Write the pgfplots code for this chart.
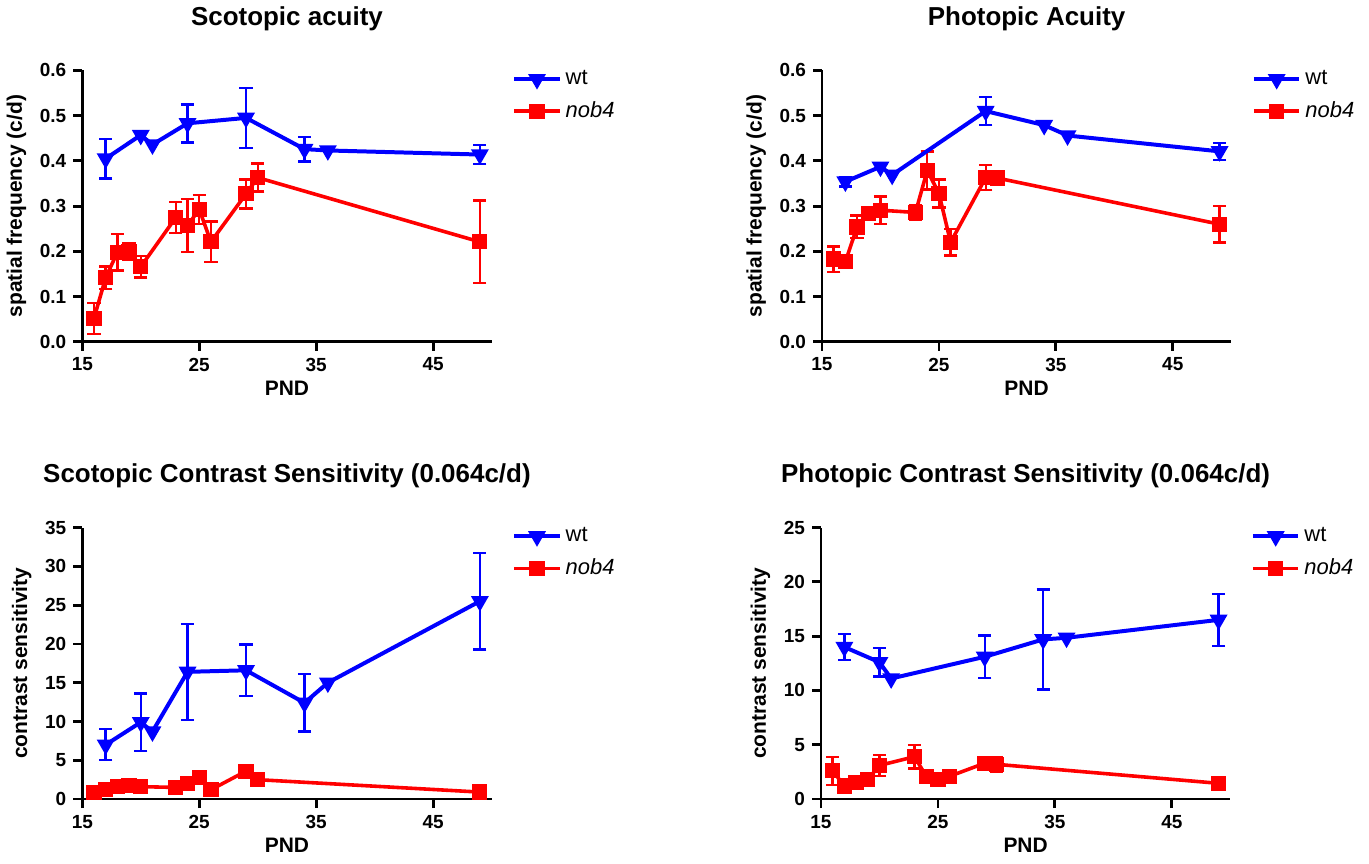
\documentclass[border=0pt]{standalone}
\usepackage{fontspec}
\setmainfont{Liberation Sans}
\usepackage{pgfplots}
\pgfplotsset{compat=1.18}

\definecolor{wtblue}{RGB}{0,0,255}
\definecolor{nobred}{RGB}{255,0,0}

\pgfplotsset{
  panel/.style={
    scale only axis, width=205pt, height=136pt,
    xmin=15, xmax=50, ymin=0,
    xtick={15,25,35,45},
    axis x line=bottom, axis y line=left,
    axis line style={-, line width=1.4pt},
    tick align=outside, major tick length=4.5pt,
    major tick style={line width=1.4pt, black},
    /pgf/number format/assume math mode=true,
    tick label style={font=\bfseries\fontsize{9.5}{10}\selectfont},
    xlabel={PND},
    label style={font=\bfseries\fontsize{10.5}{12}\selectfont},
    xlabel style={yshift=2pt},
    title style={font=\bfseries\fontsize{13}{14}\selectfont, at={(0.5,1)}, anchor=base, yshift=16.5pt},
    legend style={at={(1.035,1.03)}, anchor=north west, draw=none, fill=none,
                  font=\fontsize{11}{12}\selectfont, row sep=3pt,
                  /tikz/every even column/.append style={column sep=1pt}},
    legend cell align=left,
    legend image code/.code={\draw[mark repeat=2,mark phase=2,#1]
      plot coordinates {(0cm,0cm) (0.4cm,0cm) (0.8cm,0cm)};},
  },
  wtline/.style={wtblue, line width=2pt, mark=triangle*, mark size=3.2pt,
                 mark options={solid, rotate=180, fill=wtblue}},
  nobline/.style={nobred, line width=1.8pt, mark=square*, mark size=2.9pt,
                  mark options={solid, fill=nobred}},
  errs/.style={only marks, mark=none, forget plot,
    error bars/.cd, y dir=both, y explicit,
    error bar style={#1, line width=1.2pt},
    error mark options={rotate=90, mark size=3.3pt, line width=1.2pt, #1}},
  acuity/.style={ymax=0.6, ytick={0,0.1,...,0.6},
    yticklabel style={/pgf/number format/.cd, fixed, fixed zerofill, precision=1},
    ylabel={spatial frequency (c/d)}},
}

\begin{document}
\begin{tikzpicture}
\path (0,0) rectangle (684.5pt,429pt);

% Scotopic acuity
\begin{axis}[panel, acuity, at={(40pt,261.5pt)}, anchor=south west,
  title={Scotopic acuity}]
\addplot[errs=wtblue] coordinates {
  (17,0.405) +- (0,0.044) (24,0.483) +- (0,0.042) (29,0.495) +- (0,0.066)
  (34,0.426) +- (0,0.027) (49,0.414) +- (0,0.021) };
\addplot[errs=nobred] coordinates {
  (16,0.052) +- (0,0.034) (17,0.142) +- (0,0.025) (18,0.198) +- (0,0.040)
  (19,0.200) +- (0,0.019) (20,0.166) +- (0,0.024) (23,0.275) +- (0,0.034)
  (24,0.257) +- (0,0.059) (25,0.293) +- (0,0.032) (26,0.221) +- (0,0.045)
  (29,0.327) +- (0,0.032) (30,0.363) +- (0,0.031) (49,0.221) +- (0,0.091) };
\addplot[wtline] coordinates {
  (17,0.405) (20,0.457) (21,0.436) (24,0.483) (29,0.495) (34,0.426) (36,0.423) (49,0.414) };
\addplot[nobline] coordinates {
  (16,0.052) (17,0.142) (18,0.198) (19,0.200) (20,0.166) (23,0.275)
  (24,0.257) (25,0.293) (26,0.221) (29,0.327) (30,0.363) (49,0.221) };
\legend{wt, \textit{nob4}}
\end{axis}

% Photopic acuity
\begin{axis}[panel, acuity, at={(410.5pt,261.5pt)}, anchor=south west,
  title={Photopic Acuity}]
\addplot[errs=wtblue] coordinates {
  (17,0.354) +- (0,0.011) (29,0.510) +- (0,0.031) (49,0.421) +- (0,0.019) };
\addplot[errs=nobred] coordinates {
  (16,0.183) +- (0,0.028) (18,0.254) +- (0,0.025) (20,0.291) +- (0,0.030)
  (23,0.286) +- (0,0.017) (24,0.379) +- (0,0.042) (25,0.328) +- (0,0.031)
  (26,0.220) +- (0,0.029) (29,0.363) +- (0,0.028) (49,0.260) +- (0,0.040) };
\addplot[wtline] coordinates {
  (17,0.354) (20,0.387) (21,0.369) (29,0.510) (34,0.479) (36,0.456) (49,0.421) };
\addplot[nobline] coordinates {
  (16,0.183) (17,0.177) (18,0.254) (19,0.284) (20,0.291) (23,0.286)
  (24,0.379) (25,0.328) (26,0.220) (29,0.363) (30,0.362) (49,0.260) };
\legend{wt, \textit{nob4}}
\end{axis}

% Scotopic contrast sensitivity
\begin{axis}[panel, at={(40pt,32.5pt)}, anchor=south west,
  ymax=35, ytick={0,5,...,35}, ylabel={contrast sensitivity},
  title={Scotopic Contrast Sensitivity (0.064c/d)}]
\addplot[errs=wtblue] coordinates {
  (17,7.0) +- (0,2.0) (20,9.9) +- (0,3.7) (24,16.4) +- (0,6.2)
  (29,16.6) +- (0,3.3) (34,12.4) +- (0,3.7) (49,25.5) +- (0,6.2) };
\addplot[errs=nobred] coordinates {
  (29,3.6) +- (0,0.8) };
\addplot[wtline] coordinates {
  (17,7.0) (20,9.9) (21,8.7) (24,16.4) (29,16.6) (34,12.4) (36,15.0) (49,25.5) };
\addplot[nobline] coordinates {
  (16,0.8) (17,1.2) (18,1.6) (19,1.8) (20,1.6) (23,1.5)
  (24,2.0) (25,2.8) (26,1.2) (29,3.6) (30,2.5) (49,0.9) };
\legend{wt, \textit{nob4}}
\end{axis}

% Photopic contrast sensitivity
\begin{axis}[panel, at={(410pt,32.5pt)}, anchor=south west,
  ymax=25, ytick={0,5,...,25}, ylabel={contrast sensitivity},
  title={Photopic Contrast Sensitivity (0.064c/d)}]
\addplot[errs=wtblue] coordinates {
  (17,14.0) +- (0,1.2) (20,12.6) +- (0,1.3) (29,13.1) +- (0,1.95)
  (34,14.7) +- (0,4.6) (49,16.5) +- (0,2.4) };
\addplot[errs=nobred] coordinates {
  (16,2.6) +- (0,1.3) (20,3.1) +- (0,0.95) (23,3.9) +- (0,1.1) (30,3.2) +- (0,0.7) };
\addplot[wtline] coordinates {
  (17,14.0) (20,12.6) (21,11.1) (29,13.1) (34,14.7) (36,14.85) (49,16.5) };
\addplot[nobline] coordinates {
  (16,2.6) (17,1.2) (18,1.5) (19,1.8) (20,3.1) (23,3.9)
  (24,2.1) (25,1.8) (26,2.1) (29,3.3) (30,3.2) (49,1.45) };
\legend{wt, \textit{nob4}}
\end{axis}
\end{tikzpicture}
\end{document}
